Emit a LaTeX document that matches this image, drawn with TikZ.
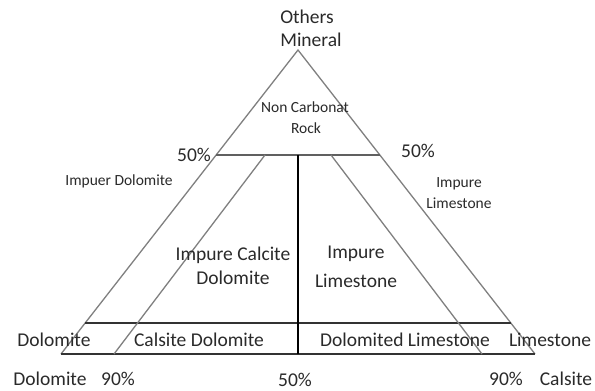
\documentclass[tikz,border=0pt]{standalone}
\usepackage{fontspec}
\setmainfont{Carlito}
\usetikzlibrary{calc}
\definecolor{txt}{HTML}{2a2a2a}
\definecolor{edge}{HTML}{808080}
\definecolor{inner}{HTML}{606060}
\tikzset{
  big/.style={anchor=base, inner sep=0pt, text=txt, font=\fontsize{19.5}{23}\selectfont},
  small/.style={anchor=base, inner sep=0pt, text=txt, font=\fontsize{15.5}{19}\selectfont},
  outer/.style={draw=edge, line width=1.3pt},
  mid/.style={draw=inner, line width=1.3pt},
  dark/.style={draw=black!80, line width=1.2pt}
}
\begin{document}
\begin{tikzpicture}[x=1pt,y=-1pt]
\useasboundingbox (0,0) rectangle (595,391);
\fill[white] (0,0) rectangle (595,391);
% main points
\coordinate (A) at (298,50);
\coordinate (L) at (61,354);
\coordinate (R) at (535,354);
\coordinate (F1) at ($(A)!0.3454!(L)$);
\coordinate (F2) at ($(A)!0.3454!(R)$);
\coordinate (G1) at ($(A)!0.898!(L)$);
\coordinate (G2) at ($(A)!0.898!(R)$);
\coordinate (Vt) at (298,155);
\coordinate (Vb) at (298,354);
\coordinate (D1t) at (265,155);
\coordinate (D1b) at (114,354);
\coordinate (D2t) at (331,155);
\coordinate (D2b) at (482,354);
% lines
\draw[outer] (L) -- (A) -- (R);
\draw[dark] (L) -- (R);
\draw[mid] (F1) -- (F2);
\draw[dark] (G1) -- (G2);
\draw[draw=black, line width=1.2pt] (Vt) -- (Vb);
\draw[outer] (D1t) -- (D1b);
\draw[outer] (D2t) -- (D2b);
% labels
\node[big] (t1) at (307,23) {Others};
\node[big] (t2) at (311,46) {Mineral};
\node[small] (nc1) at (305,112) {Non Carbonat};
\node[small] (nc2) at (306,133) {Rock};
\node[big] (p1) at (194,161) {50\%};
\node[big] (p2) at (418,157) {50\%};
\node[small] (id) at (119,185) {Impuer Dolomite};
\node[small] (il1) at (459,187) {Impure};
\node[small] (il2) at (459,208) {Limestone};
\node[big] (ic1) at (233,260) {Impure Calcite};
\node[big] (ic2) at (233,284) {Dolomite};
\node[big] (im1) at (356,258) {Impure};
\node[big] (im2) at (356,287) {Limestone};
\node[big] (b1) at (54,346) {Dolomite};
\node[big] (b2) at (199,346) {Calsite Dolomite};
\node[big] (b3) at (405,346) {Dolomited Limestone};
\node[big] (b4) at (550,346) {Limestone};
\node[big] (c1) at (50,385) {Dolomite};
\node[big] (c2) at (118,385) {90\%};
\node[big] (c3) at (295,386.5) {50\%};
\node[big] (c4) at (506,385) {90\%};
\node[big] (c5) at (566,385) {Calsite};
\end{tikzpicture}
\end{document}
